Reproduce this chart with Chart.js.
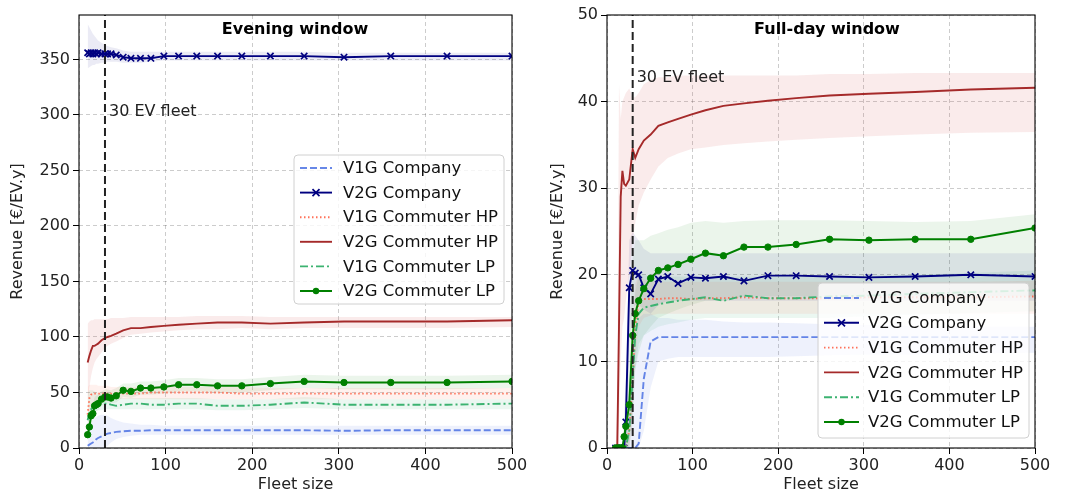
<!DOCTYPE html>
<html>
<head>
<meta charset="utf-8">
<script src="https://cdn.jsdelivr.net/npm/chart.js@4.4.0/dist/chart.umd.min.js"></script>
<style>
  html, body { margin: 0; padding: 0; background: #fff; width: 1065px; height: 498px; overflow: hidden; }
  #left { position: absolute; left: 0; top: 0; }
  #right { position: absolute; left: 530px; top: 0; }
</style>
</head>
<body>
<canvas id="left" width="530" height="498"></canvas>
<canvas id="right" width="535" height="498"></canvas>
<script>
/* ===== data ===== */
const fleet = [10, 12, 14, 16, 18, 20, 22, 26, 30, 33, 37, 43, 51, 60, 71, 83, 98, 115, 136, 160, 188, 221, 260, 306, 360, 425, 500];
const fleetMark = 30;
const labels = ["V1G Company", "V2G Company", "V1G Commuter HP", "V2G Commuter HP", "V1G Commuter LP", "V2G Commuter LP"];
const xTicks = [0, 100, 200, 300, 400, 500];
const eveTicks = [0, 50, 100, 150, 200, 250, 300, 350];
const dayTicks = [0, 10, 20, 30, 40, 50];

// Evening window
const eveV1GCo   = [2, 3, 4, 5, 6, 8, 9, 10.5, 12, 13, 13.5, 14.5, 15, 15.5, 15.5, 16, 16, 16, 16, 16, 16, 16, 16, 15.5, 16, 16, 16];
const eveV1GCoLo = [0, 0, 0, 0, 0, 0, 0, 0, 0, 2, 5, 8, 10, 11, 12, 12, 12, 12, 12, 12, 12, 12, 12, 12, 12, 12, 12];
const eveV1GCoHi = [14, 18, 22, 25, 27, 28, 29, 30, 30, 29, 27, 25, 23, 22, 21, 21, 20, 20, 20, 20, 20, 20, 20, 20, 20, 20, 20];
const eveV2GCo   = [356, 355, 356, 355, 356, 355, 356, 355, 355, 355, 355, 354, 352, 351, 351, 351, 353, 353, 353, 353, 353, 353, 353, 352, 353, 353, 353];
const eveV2GCoLo = [342, 343, 344, 345, 345, 346, 346, 347, 347, 348, 348, 348, 347, 347, 347, 348, 349, 349, 349, 349, 349, 349, 349, 349, 349, 349, 349];
const eveV2GCoHi = [382, 379, 376, 373, 371, 369, 367, 365, 363, 362, 361, 360, 358, 357, 357, 357, 357, 357, 357, 357, 357, 357, 357, 356, 356, 356, 356];
const eveV1GHP   = [30, 45, 48, 49, 49, 49, 49, 49, 49, 49, 49, 49, 49, 49, 49, 50, 50, 50, 50, 50, 49, 49, 49, 49, 49, 49, 49];
const eveV1GHPLo = [12, 30, 37, 40, 41, 42, 42, 43, 44, 44, 44, 44, 44, 44, 44, 44, 44, 44, 44, 44, 44, 44, 44, 44, 44, 44, 44];
const eveV1GHPHi = [55, 57, 57, 57, 57, 57, 56, 56, 56, 56, 55, 55, 55, 55, 55, 55, 55, 55, 55, 55, 55, 54, 54, 54, 54, 54, 54];
const eveV2GHP   = [77, 83, 88, 92, 92, 93, 94, 97, 99, 100, 101, 103, 106, 108, 108, 109, 110, 111, 112, 113, 113, 112, 113, 114, 114, 114, 115];
const eveV2GHPLo = [40, 55, 65, 72, 77, 80, 82, 86, 90, 92, 94, 96, 99, 102, 103, 104, 105, 106, 107, 107, 108, 107, 108, 108, 108, 108, 109];
const eveV2GHPHi = [112, 114, 115, 115, 116, 116, 116, 116, 116, 116, 117, 117, 117, 118, 118, 118, 118, 118, 119, 119, 119, 118, 118, 118, 118, 118, 118];
const eveV1GLP   = [25, 32, 35, 37, 38, 39, 40, 40, 40, 40, 39, 38, 39, 40, 40, 39, 39, 40, 40, 38, 38, 39, 41, 39, 39, 39, 40];
const eveV1GLPLo = [15, 22, 27, 30, 32, 33, 34, 34, 35, 35, 35, 35, 35, 35, 35, 35, 35, 35, 35, 34, 34, 35, 36, 35, 35, 35, 35];
const eveV1GLPHi = [50, 52, 52, 52, 51, 50, 49, 48, 46, 46, 46, 45, 45, 45, 45, 45, 45, 45, 45, 44, 44, 44, 46, 44, 44, 44, 44];
const eveV2GLP   = [12, 19, 29, 31, 38, 39, 40, 44, 46, 46, 45, 47, 52, 51, 54, 54, 55, 57, 57, 56, 56, 58, 60, 59, 59, 59, 60];
const eveV2GLPLo = [6, 12, 21, 25, 31, 33, 34, 38, 40, 40, 40, 41, 46, 45, 48, 48, 49, 51, 51, 50, 50, 52, 54, 53, 53, 53, 54];
const eveV2GLPHi = [20, 28, 38, 40, 46, 47, 48, 51, 53, 53, 52, 54, 58, 58, 60, 60, 61, 63, 63, 62, 62, 64, 66, 65, 65, 65, 66];

// Full-day window
const dayV1GCo   = [0, 0, 0, 0, 0, 0, 0, 0, 0, 0, 0.5, 8, 12.3, 12.8, 12.8, 12.8, 12.8, 12.8, 12.8, 12.8, 12.8, 12.8, 12.8, 12.8, 12.8, 12.8, 12.8];
const dayV1GCoLo = [0, 0, 0, 0, 0, 0, 0, 0, 0, 0, 0, 2, 7, 10, 10.3, 10.5, 10.5, 10.5, 10.5, 10.5, 10.5, 10.6, 10.7, 10.8, 10.8, 10.9, 11];
const dayV1GCoHi = [0, 0, 0, 0, 0, 0, 2, 8, 12, 14, 15, 15.5, 15.5, 15, 15, 14.8, 14.8, 14.8, 14.6, 14.5, 14.5, 14.4, 14.3, 14.2, 14.1, 14, 14];
const dayV2GCo   = [0, 0, 0, 0, 0, 0, 3, 18.5, 20.5, 20.2, 20, 18.5, 17.8, 19.5, 19.8, 19, 19.7, 19.6, 19.8, 19.3, 19.9, 19.9, 19.8, 19.7, 19.8, 20, 19.8];
const dayV2GCoLo = [0, 0, 0, 0, 0, 0, 0, 12, 16, 16.5, 16.5, 16, 15.5, 16.5, 17, 17, 17, 17, 17, 17, 17, 17, 17, 17, 17, 17, 17];
const dayV2GCoHi = [0, 0, 0, 0, 0, 0, 8, 24, 25, 24.5, 24, 23, 22.5, 22.5, 22.5, 22.5, 22.5, 22.5, 22.5, 22.5, 22.5, 22.5, 22.5, 22.5, 22.5, 22.5, 22.5];
const dayV1GHP   = [0, 0, 0, 0, 0, 0, 0, 2, 8, 14, 17, 17.2, 17.2, 17.2, 17.3, 17.3, 17.2, 17.3, 17.3, 17.4, 17.3, 17.3, 17.3, 17.4, 17.4, 17.4, 17.5];
const dayV1GHPLo = [0, 0, 0, 0, 0, 0, 0, 0, 3, 10, 14, 15, 15.3, 15.5, 15.5, 15.5, 15.5, 15.5, 15.5, 15.5, 15.5, 15.5, 15.5, 15.5, 15.5, 15.5, 15.5];
const dayV1GHPHi = [0, 0, 0, 0, 0, 0, 2, 6, 14, 19, 20, 19.5, 19.3, 19.2, 19.2, 19.2, 19.2, 19.2, 19.2, 19.2, 19.2, 19.2, 19.2, 19.2, 19.2, 19.2, 19.3];
const dayV2GHP   = [0, 0, 14, 29, 32, 30.5, 30.3, 31, 34.5, 33.5, 34.5, 35.5, 36.2, 37.2, 37.6, 38, 38.5, 39, 39.5, 39.8, 40.1, 40.4, 40.7, 40.9, 41.1, 41.4, 41.6];
const dayV2GHPLo = [0, 0, 3, 10, 14, 15, 17, 20, 24, 26, 28, 29.5, 31, 32.5, 33.5, 34, 34.5, 34.7, 35, 35.2, 35.4, 35.6, 35.8, 36, 36.2, 36.4, 36.5];
const dayV2GHPHi = [0, 5, 42, 38, 40, 40.5, 41, 41.5, 40.5, 40.5, 41, 42, 42.5, 42.8, 42.8, 43, 43, 43, 43, 43, 43, 43, 43.2, 43.2, 43.3, 43.3, 43.3];
const dayV1GLP   = [0, 0, 0, 0, 0, 0, 0, 2, 8, 13, 15.5, 16.2, 16.4, 16.6, 16.8, 17, 17.2, 17.4, 17, 17.6, 17.3, 17.3, 17.5, 17.6, 17.8, 18, 18.2];
const dayV1GLPLo = [0, 0, 0, 0, 0, 0, 0, 0, 3, 9, 12, 13, 13.5, 14, 14.3, 14.5, 14.8, 15, 15, 15, 15, 15, 15, 15.2, 15.4, 15.6, 15.8];
const dayV1GLPHi = [0, 0, 0, 0, 0, 0, 3, 7, 13, 18, 20, 20, 19.8, 19.8, 19.8, 19.8, 19.8, 19.8, 19.8, 19.8, 19.8, 19.8, 19.8, 19.9, 20, 20.2, 20.5];
const dayV2GLP   = [0, 0, 0, 0, 0, 1.3, 2.5, 5, 13, 15.5, 17, 18.4, 19.6, 20.5, 20.8, 21.2, 21.8, 22.5, 22.2, 23.2, 23.2, 23.5, 24.1, 24, 24.1, 24.1, 25.4];
const dayV2GLPLo = [0, 0, 0, 0, 0, 0, 0, 0, 5, 9, 11, 13, 14, 15, 15.5, 16, 16.5, 17, 17, 17.5, 17.5, 17.5, 17.5, 17.5, 17.5, 17.5, 17.5];
const dayV2GLPHi = [0, 0, 0, 0, 0, 4, 8, 14, 22, 24, 24, 24, 24.5, 24.8, 25.2, 25.5, 26, 26.2, 26, 26.2, 26.3, 26.3, 26.3, 26.2, 26.1, 26.2, 27];

/* ===== styles ===== */
const FONT = "'DejaVu Sans', 'Liberation Sans', sans-serif";
const STYLE = [
  { color: "rgba(65,105,225,0.8)", band: "rgba(65,105,225,0.09)", dash: [7, 3], width: 1.9, marker: null },
  { color: "#000080", band: "rgba(0,0,128,0.08)", dash: [], width: 1.9, marker: "x" },
  { color: "rgba(255,99,71,0.9)", band: "rgba(255,99,71,0.09)", dash: [1.5, 2.5], width: 1.9, marker: null },
  { color: "#a52a2a", band: "rgba(205,60,60,0.1)", dash: [], width: 1.9, marker: null },
  { color: "#3cb371", band: "rgba(60,179,113,0.1)", dash: [8, 3, 2, 3], width: 1.9, marker: null },
  { color: "#008000", band: "rgba(0,128,0,0.08)", dash: [], width: 2, marker: "o" },
];

const pts = ys => fleet.map((x, i) => ({ x, y: ys[i] }));

function buildDatasets(series, ymax) {
  const ds = [];
  series.forEach((s, k) => {
    ds.push({ data: pts(s.lo), borderWidth: 0, pointRadius: 0, fill: false, order: 20 });
    ds.push({ data: pts(s.hi), borderWidth: 0, pointRadius: 0, fill: "-1", backgroundColor: STYLE[k].band, order: 20 });
  });
  series.forEach((s, k) => {
    const st = STYLE[k];
    ds.push({
      label: labels[k], data: pts(s.mid), borderColor: st.color, backgroundColor: st.color,
      borderWidth: st.width, borderDash: st.dash, fill: false, order: 10 - k,
      pointStyle: st.marker === "x" ? "crossRot" : "circle",
      pointRadius: st.marker ? (st.marker === "x" ? 4.5 : 3.2) : 0,
      pointBorderWidth: st.marker === "x" ? 1.7 : 1,
    });
  });
  // 30 EV fleet
  ds.push({ data: [{ x: fleetMark, y: 0 }, { x: fleetMark, y: ymax }], borderColor: "#222", borderDash: [8, 4],
    borderWidth: 2, pointRadius: 0, fill: false, order: 0 });
  return ds;
}

/* ===== plugins ===== */
const decor = {
  id: "decor",
  afterDraw(chart, args, o) {
    const { ctx, chartArea: a, scales } = chart;
    ctx.save();
    // frame
    ctx.strokeStyle = "#000"; ctx.lineWidth = 1.1; ctx.setLineDash([]);
    ctx.strokeRect(a.left, a.top, a.right - a.left, a.bottom - a.top);
    // title
    ctx.fillStyle = "#000"; ctx.font = "bold 16px " + FONT;
    ctx.textAlign = "center"; ctx.textBaseline = "middle";
    ctx.fillText(o.title, o.titleX, 30);
    // annotation
    ctx.font = "16px " + FONT; ctx.fillStyle = "#222"; ctx.textAlign = "left";
    ctx.fillText("30 EV fleet", scales.x.getPixelForValue(fleetMark) + 4, scales.y.getPixelForValue(o.noteY));
    // legend
    const L = o.legend;
    ctx.beginPath();
    ctx.roundRect(L.x, L.y, L.w, L.h, 4);
    ctx.fillStyle = "rgba(255,255,255,0.8)"; ctx.fill();
    ctx.strokeStyle = "#d0d0d0"; ctx.lineWidth = 1; ctx.stroke();
    ctx.font = "16.5px " + FONT; ctx.textBaseline = "middle";
    labels.forEach((lab, k) => {
      const st = STYLE[k];
      const y = L.y + L.first + k * L.row;
      ctx.strokeStyle = st.color; ctx.lineWidth = st.width; ctx.setLineDash(st.dash);
      ctx.beginPath(); ctx.moveTo(L.x + 6, y); ctx.lineTo(L.x + 6 + L.line, y); ctx.stroke();
      ctx.setLineDash([]);
      const cx = L.x + 6 + L.line / 2;
      if (st.marker === "x") {
        ctx.lineWidth = 1.7; ctx.beginPath();
        ctx.moveTo(cx - 3.5, y - 3.5); ctx.lineTo(cx + 3.5, y + 3.5);
        ctx.moveTo(cx + 3.5, y - 3.5); ctx.lineTo(cx - 3.5, y + 3.5); ctx.stroke();
      } else if (st.marker === "o") {
        ctx.fillStyle = st.color; ctx.beginPath(); ctx.arc(cx, y, 3.2, 0, Math.PI * 2); ctx.fill();
      }
      ctx.fillStyle = "#111";
      ctx.fillText(lab, L.x + L.text, y + 1);
    });
    ctx.restore();
  }
};

function makeChart(id, series, opt) {
  const tickFont = { family: FONT, size: 16 };
  new Chart(document.getElementById(id), {
    type: "line",
    data: { datasets: buildDatasets(series, opt.ymax) },
    options: {
      responsive: false, animation: false,
      layout: { padding: { left: opt.padLeft, right: opt.padRight, top: 15, bottom: 0 } },
      plugins: { legend: { display: false }, tooltip: { enabled: false }, decor: opt.decor },
      elements: { line: { tension: 0 } },
      scales: {
        x: {
          type: "linear", min: 0, max: 500,
          afterBuildTicks: s => { s.ticks = xTicks.map(v => ({ value: v })); },
          afterFit: s => { s.height = 50; },
          ticks: { font: tickFont, color: "#222", padding: 2, maxRotation: 0 },
          grid: { color: "rgba(0,0,0,0.25)", lineWidth: 0.8, tickLength: 6, tickColor: "#000", tickWidth: 1 },
          border: { display: false, dash: [4, 3] },
          title: { display: true, text: "Fleet size", font: { family: FONT, size: 16 }, color: "#222", padding: { top: 3 } },
        },
        y: {
          type: "linear", min: 0, max: opt.ymax,
          afterBuildTicks: s => { s.ticks = opt.yTicks.map(v => ({ value: v })); },
          afterFit: s => { s.width = opt.yWidth; },
          ticks: { font: tickFont, color: "#222", padding: 3 },
          grid: { color: "rgba(0,0,0,0.25)", lineWidth: 0.8, tickLength: 6, tickColor: "#000", tickWidth: 1 },
          border: { display: false, dash: [4, 3] },
          title: { display: true, text: "Revenue [€/EV.y]", font: { family: FONT, size: 16 }, color: "#222", padding: { bottom: 2 } },
        },
      },
    },
    plugins: [decor],
  });
}

makeChart("left", [
  { mid: eveV1GCo, lo: eveV1GCoLo, hi: eveV1GCoHi },
  { mid: eveV2GCo, lo: eveV2GCoLo, hi: eveV2GCoHi },
  { mid: eveV1GHP, lo: eveV1GHPLo, hi: eveV1GHPHi },
  { mid: eveV2GHP, lo: eveV2GHPLo, hi: eveV2GHPHi },
  { mid: eveV1GLP, lo: eveV1GLPLo, hi: eveV1GLPHi },
  { mid: eveV2GLP, lo: eveV2GLPLo, hi: eveV2GLPHi },
], {
  ymax: 390, yTicks: eveTicks, padLeft: 4, padRight: 18, yWidth: 75,
  decor: { title: "Evening window", titleX: 295, noteY: 303,
    legend: { x: 294, y: 155, w: 210, h: 149, first: 13, row: 24.6, line: 32, text: 49 } },
});

makeChart("right", [
  { mid: dayV1GCo, lo: dayV1GCoLo, hi: dayV1GCoHi },
  { mid: dayV2GCo, lo: dayV2GCoLo, hi: dayV2GCoHi },
  { mid: dayV1GHP, lo: dayV1GHPLo, hi: dayV1GHPHi },
  { mid: dayV2GHP, lo: dayV2GHPLo, hi: dayV2GHPHi },
  { mid: dayV1GLP, lo: dayV1GLPLo, hi: dayV1GLPHi },
  { mid: dayV2GLP, lo: dayV2GLPLo, hi: dayV2GLPHi },
], {
  ymax: 50, yTicks: dayTicks, padLeft: 14, padRight: 30, yWidth: 63,
  decor: { title: "Full-day window", titleX: 297, noteY: 42.7,
    legend: { x: 288, y: 283, w: 211, h: 155, first: 15, row: 24.8, line: 35, text: 50 } },
});
</script>
</body>
</html>
